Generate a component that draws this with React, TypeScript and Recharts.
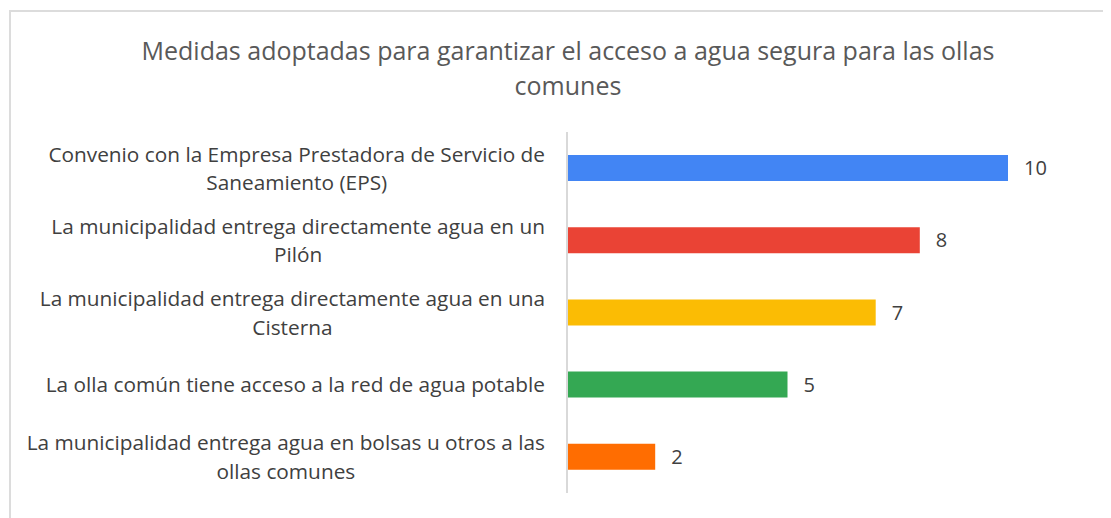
import React from "react";
import { BarChart, Bar, XAxis, YAxis, Cell, LabelList } from "recharts";

const title = "Medidas adoptadas para garantizar el acceso a agua segura para las ollas\ncomunes";

const categories = [
  "Convenio con la Empresa Prestadora de Servicio de\nSaneamiento (EPS)",
  "La municipalidad entrega directamente agua en un\nPilón",
  "La municipalidad entrega directamente agua en una\nCisterna",
  "La olla común tiene acceso a la red de agua potable",
  "La municipalidad entrega agua en bolsas u otros a las\nollas comunes",
];
const values = [10, 8, 7, 5, 2];
const colors = ["#4285F4", "#EA4335", "#FBBC04", "#34A853", "#FF6D01"];

const data = categories.map((c, i) => ({ name: c, value: values[i] }));

const FONT = "'Open Sans', 'Noto Sans', sans-serif";

const CategoryTick = (props: any) => {
  const { y, payload } = props;
  return (
    <foreignObject x={0} y={y - 45} width={537} height={90}>
      <div
        style={{
          width: 537,
          height: 90,
          display: "flex",
          alignItems: "center",
          justifyContent: "flex-end",
        }}
      >
        <div
          style={{
            textAlign: "center",
            whiteSpace: "pre",
            fontFamily: FONT,
            fontSize: 20.8,
            lineHeight: "28.5px",
            color: "#404040",
          }}
        >
          {payload.value}
        </div>
      </div>
    </foreignObject>
  );
};

export default function App() {
  return (
    <div style={{ position: "relative", width: 1103, height: 510, background: "#fff" }}>
      <div
        style={{
          position: "absolute",
          left: 1,
          top: 2,
          width: 1102,
          height: 508,
          borderLeft: "2px solid #dcdcdc",
          borderTop: "2px solid #dcdcdc",
          boxSizing: "border-box",
        }}
      />
      <div
        style={{
          position: "absolute",
          left: 60,
          top: 25,
          width: 1000,
          textAlign: "center",
          whiteSpace: "pre",
          fontFamily: FONT,
          fontSize: 25,
          lineHeight: "35px",
          color: "#595959",
        }}
      >
        {title}
      </div>
      <div style={{ position: "absolute", left: 0, top: 0 }}>
        <BarChart
          width={1103}
          height={510}
          data={data}
          layout="vertical"
          margin={{ top: 124, right: 103, bottom: 25, left: 0 }}
          barSize={26}
        >
          <XAxis type="number" domain={[0, 10]} hide />
          <YAxis
            type="category"
            dataKey="name"
            width={559}
            axisLine={{ stroke: "#d9d9d9", strokeWidth: 2 }}
            tickLine={false}
            tick={<CategoryTick />}
            interval={0}
          />
          <Bar dataKey="value" isAnimationActive={false}>
            {data.map((d, i) => (
              <Cell key={i} fill={colors[i]} />
            ))}
            <LabelList
              dataKey="value"
              position="right"
              offset={16}
              style={{ fontFamily: FONT, fontSize: 20, fill: "#404040" }}
            />
          </Bar>
        </BarChart>
      </div>
    </div>
  );
}
